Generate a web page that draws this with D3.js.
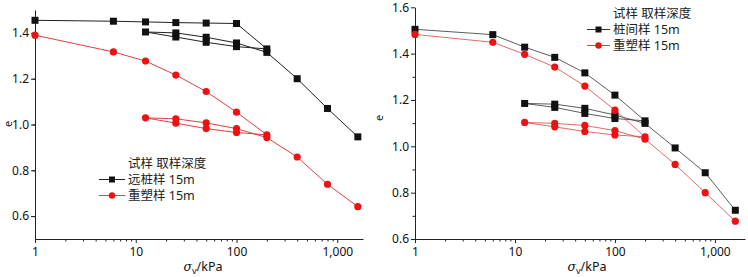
<!DOCTYPE html>
<html><head><meta charset="utf-8">
<script src="https://cdn.jsdelivr.net/npm/d3@7"></script>
<style>
body{margin:0;background:#fff;}
svg{display:block;}
text{font-family:"Noto Sans","Noto Sans CJK SC",sans-serif;}
</style></head>
<body>
<svg id="c" width="748" height="277"></svg>
<script>
// pressures along the loading / unloading / reloading path (kPa)
const pressures = [1,6,12.5,25,50,100,200,100,50,25,12.5,25,50,100,200,400,800,1600];
// left panel
const leftFarPile  = [1.455,1.451,1.448,1.445,1.443,1.441,1.330,1.340,1.359,1.382,1.404,1.400,1.381,1.356,1.315,1.200,1.070,0.946];
const leftRemold   = [1.390,1.317,1.277,1.216,1.144,1.054,0.955,0.965,0.982,1.006,1.029,1.025,1.007,0.982,0.943,0.858,0.739,0.641];
// right panel
const rightBetween = [1.505,1.482,1.428,1.384,1.317,1.221,1.110,1.120,1.142,1.168,1.185,1.182,1.164,1.135,1.099,0.993,0.886,0.724];
const rightRemold  = [1.483,1.449,1.397,1.342,1.260,1.156,1.041,1.049,1.064,1.084,1.103,1.099,1.090,1.068,1.031,0.922,0.800,0.677];

const xMajorTicks = [1,10,100,1000];
const leftYTicks  = [0.6,0.8,1.0,1.2,1.4];
const rightYTicks = [0.6,0.8,1.0,1.2,1.4,1.6];
const legendTitle = "试样 取样深度";
const leftLabels  = ["远桩样 15m","重塑样 15m"];
const rightLabels = ["桩间样 15m","重塑样 15m"];

const svg = d3.select("#c");
const BLACK = "#111", RED = "#ee1111", REDLINE = "#e04040";

function minorTicks(maxV){
  const out=[];
  for(let d=1; d<=1000; d*=10) for(let k=2;k<=9;k++){ if(d*k<maxV) out.push(d*k); }
  return out;
}

function panel(cfg){
  const g = svg.append("g");
  const x = d3.scaleLog().domain(cfg.xDomain).range(cfg.xRange);
  const y = d3.scaleLinear().domain(cfg.yDomain).range(cfg.yRange);
  const yb = cfg.yRange[0];
  const xl = cfg.xRange[0];

  // x axis
  const ax = g.append("g").attr("transform",`translate(0,${yb})`)
    .call(d3.axisBottom(x).tickValues(xMajorTicks).tickFormat(d3.format(",")).tickSize(4).tickSizeOuter(0).tickPadding(4));
  ax.select(".domain").attr("stroke","#222").attr("stroke-width",1);
  ax.selectAll(".tick line").attr("stroke","#222");
  ax.selectAll("text").attr("font-size","12px").attr("fill","#111");
  const axm = g.append("g").attr("transform",`translate(0,${yb})`)
    .call(d3.axisBottom(x).tickValues(minorTicks(cfg.xDomain[1])).tickFormat("").tickSize(2.5).tickSizeOuter(0));
  axm.select(".domain").remove();
  axm.selectAll(".tick line").attr("stroke","#222");

  // y axis
  const ay = g.append("g").attr("transform",`translate(${xl},0)`)
    .call(d3.axisLeft(y).tickValues(cfg.yTicks).tickFormat(d3.format(".1f")).tickSize(4).tickSizeOuter(0).tickPadding(2));
  ay.select(".domain").attr("stroke","#222").attr("stroke-width",1);
  ay.selectAll(".tick line").attr("stroke","#222");
  ay.selectAll("text").attr("font-size","12px").attr("fill","#111");
  const yMinor = d3.range(cfg.yDomain[0]*10+1, cfg.yDomain[1]*10, 2).map(v=>v/10);
  const aym = g.append("g").attr("transform",`translate(${xl},0)`)
    .call(d3.axisLeft(y).tickValues(yMinor).tickFormat("").tickSize(2.5).tickSizeOuter(0));
  aym.select(".domain").remove();
  aym.selectAll(".tick line").attr("stroke","#222");

  // axis labels
  g.append("text").attr("transform",`translate(${cfg.eLabel[0]},${cfg.eLabel[1]}) rotate(-90)`)
    .attr("text-anchor","middle").attr("font-size","11px").attr("fill","#111").text("e");
  const xt = g.append("text").attr("x",cfg.xLabel[0]).attr("y",cfg.xLabel[1])
    .attr("text-anchor","middle").attr("font-size","12.5px").attr("fill","#111");
  xt.append("tspan").attr("font-style","italic").attr("font-family","DejaVu Serif, serif").text("σ");
  xt.append("tspan").attr("font-size","9px").attr("dy","3").text("v");
  xt.append("tspan").attr("dy","-3").text("/kPa");

  const line = d3.line().x((d,i)=>x(pressures[i])).y(d=>y(d));
  // series
  cfg.series.forEach(s=>{
    g.append("path").datum(s.values).attr("d",line).attr("fill","none")
      .attr("stroke",s.line).attr("stroke-width",cfg.lw);
    if(s.shape==="square"){
      g.selectAll(null).data(s.values).enter().append("rect")
        .attr("x",(d,i)=>x(pressures[i])-3.5).attr("y",d=>y(d)-3.5)
        .attr("width",7).attr("height",7).attr("fill",s.color);
    } else {
      g.selectAll(null).data(s.values).enter().append("circle")
        .attr("cx",(d,i)=>x(pressures[i])).attr("cy",d=>y(d)).attr("r",3.6).attr("fill",s.color);
    }
  });

  // legend
  const L = cfg.legend;
  g.append("text").attr("x",L.tx).attr("y",L.y0).attr("font-size","12.5px").attr("fill","#222")
    .text(legendTitle);
  cfg.series.forEach((s,i)=>{
    const yy = L.y0 + 16*(i+1);
    g.append("line").attr("x1",L.lx0).attr("x2",L.lx1).attr("y1",yy-4.5).attr("y2",yy-4.5)
      .attr("stroke",s.line).attr("stroke-width",1);
    const mx=(L.lx0+L.lx1)/2;
    if(s.shape==="square") g.append("rect").attr("x",mx-3).attr("y",yy-7.5).attr("width",6).attr("height",6).attr("fill",s.color);
    else g.append("circle").attr("cx",mx).attr("cy",yy-4.5).attr("r",3.2).attr("fill",s.color);
    g.append("text").attr("x",L.tx).attr("y",yy).attr("font-size","12.5px").attr("fill","#222").text(s.label);
  });
}

panel({
  xDomain:[1,1800], xRange:[35,363],
  yDomain:[0.5,1.5], yRange:[239,10], yTicks:leftYTicks,
  eLabel:[12,124], xLabel:[203,271], lw:1,
  series:[
    {values:leftFarPile, color:BLACK, line:"#222", shape:"square", label:leftLabels[0]},
    {values:leftRemold, color:RED, line:REDLINE, shape:"circle", label:leftLabels[1]}
  ],
  legend:{tx:128, y0:168, lx0:99, lx1:125}
});

panel({
  xDomain:[1,2000], xRange:[415,745],
  yDomain:[0.6,1.6], yRange:[239,7.3], yTicks:rightYTicks,
  eLabel:[383,118], xLabel:[587,271], lw:0.8,
  series:[
    {values:rightBetween, color:BLACK, line:"#333", shape:"square", label:rightLabels[0]},
    {values:rightRemold, color:RED, line:REDLINE, shape:"circle", label:rightLabels[1]}
  ],
  legend:{tx:613, y0:18, lx0:587, lx1:610}
});
</script>
</body></html>
